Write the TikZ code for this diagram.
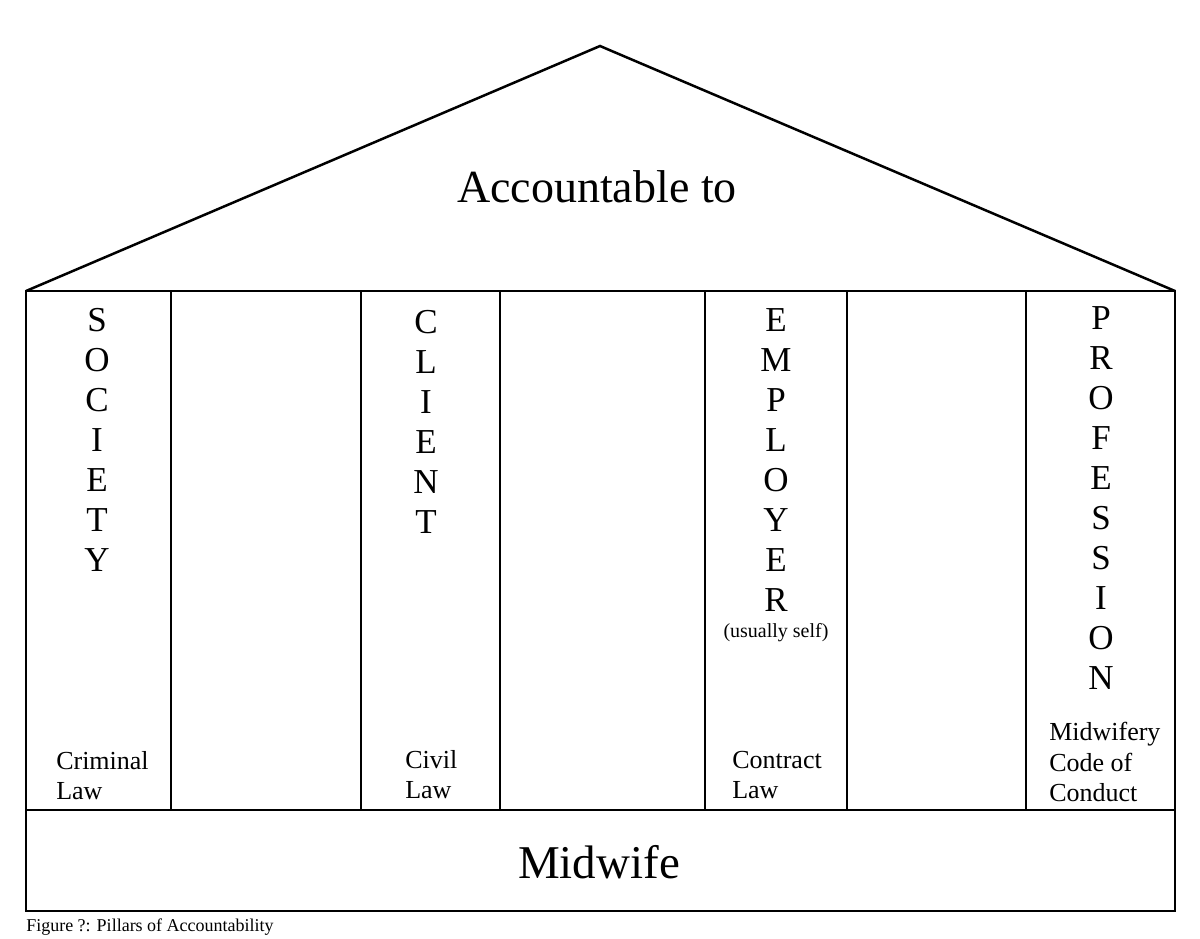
\documentclass[tikz,border=0pt]{standalone}
\usepackage{fontspec}
\setmainfont{Liberation Serif}
\begin{document}
\begin{tikzpicture}[x=1pt,y=-1pt,line width=2.5pt,
  letters/.style={align=center,font=\fontsize{35}{40}\selectfont,anchor=north,inner sep=0},
  lab/.style={align=left,font=\fontsize{26}{30.5}\selectfont,anchor=north west,inner sep=0}]
\useasboundingbox[fill=white] (0,0) rectangle (1200,938);
\coordinate (apex) at (600,46);
\coordinate (bl) at (26,291);
\coordinate (br) at (1175,291);
\draw (bl) -- (apex) -- (br);
\draw (26,291) rectangle (1175,911);
\draw (26,810) -- (1175,810);
\foreach \x in {171,361,500,705,847,1026} \draw (\x,291) -- (\x,810);
\node[font=\fontsize{46}{56}\selectfont] (acc) at (597,187) {Accountable to};
\node[font=\fontsize{47}{56}\selectfont] (mid) at (599,862) {Midwife};
\node[letters] (soc) at (97,307) {S\\O\\C\\I\\E\\T\\Y};
\node[letters] (cli) at (426,309) {C\\L\\I\\E\\N\\T};
\node[letters] (emp) at (776,307) {E\\M\\P\\L\\O\\Y\\E\\R};
\node[font=\fontsize{20}{24}\selectfont,inner sep=0] (self) at (776,633) {(usually self)};
\node[letters] (pro) at (1101,305) {P\\R\\O\\F\\E\\S\\S\\I\\O\\N};
\node[lab] (crim) at (55,750) {Criminal\\Law};
\node[lab] (civ) at (404,749) {Civil\\Law};
\node[lab] (con) at (731,750) {Contract\\Law};
\node[lab] (code) at (1048,721) {Midwifery\\Code of\\Conduct};
\node[font=\fontsize{18}{20}\selectfont,anchor=west,inner sep=0] (cap) at (25,927) {Figure ?: Pillars of Accountability};
\end{tikzpicture}
\end{document}
